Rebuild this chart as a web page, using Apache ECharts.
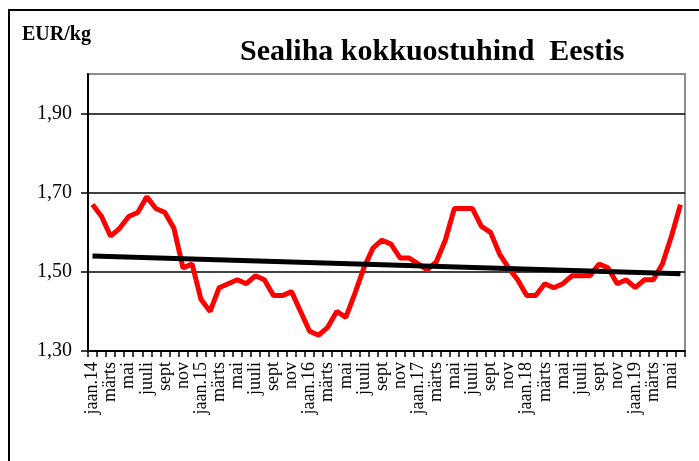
<!DOCTYPE html>
<html>
<head>
<meta charset="utf-8">
<script src="https://cdn.jsdelivr.net/npm/echarts@6/dist/echarts.min.js"></script>
<style>
    html,body{margin:0;padding:0;background:#fff;}
    .frame{position:absolute;left:8px;top:9px;width:720px;height:480px;border:2px solid #000;}
    #chart{position:absolute;left:0;top:0;width:699px;height:461px;}
</style>
</head>
<body>
<div class="frame"></div>
<div id="chart"></div>
<script>
    // kuud (iga teine silt näidatakse)
    var months = [
        'jaan.14','veebr','märts','apr','mai','juuni','juuli','aug','sept','okt','nov','dets',
        'jaan.15','veebr','märts','apr','mai','juuni','juuli','aug','sept','okt','nov','dets',
        'jaan.16','veebr','märts','apr','mai','juuni','juuli','aug','sept','okt','nov','dets',
        'jaan.17','veebr','märts','apr','mai','juuni','juuli','aug','sept','okt','nov','dets',
        'jaan.18','veebr','märts','apr','mai','juuni','juuli','aug','sept','okt','nov','dets',
        'jaan.19','veebr','märts','apr','mai','juuni'
    ];
    // sealiha kokkuostuhind, EUR/kg
    var prices = [
        1.67, 1.64, 1.59, 1.61, 1.64, 1.65, 1.69, 1.66, 1.65, 1.61, 1.51, 1.52,
        1.43, 1.40, 1.46, 1.47, 1.48, 1.47, 1.49, 1.48, 1.44, 1.44, 1.45, 1.40,
        1.35, 1.34, 1.36, 1.40, 1.385, 1.445, 1.51, 1.56, 1.58, 1.57, 1.535, 1.535,
        1.52, 1.505, 1.525, 1.58, 1.66, 1.66, 1.66, 1.615, 1.60, 1.545, 1.51, 1.48,
        1.44, 1.44, 1.47, 1.46, 1.47, 1.49, 1.49, 1.49, 1.52, 1.51, 1.47, 1.48,
        1.46, 1.48, 1.48, 1.52, 1.59, 1.67
    ];
    // trendijoone otsad (algus, lõpp)
    var trendEnds = [1.54, 1.495];
    // y-telg: min, max, samm
    var yRange = [1.30, 2.00, 0.2];

    var myChart = echarts.init(document.getElementById('chart'));
    var option = {
        animation:false,
        title:{
            text:'Sealiha kokkuostuhind  Eestis',
            left:235,
            top:32,
            textStyle:{
                fontFamily:'Liberation Serif',
                fontWeight:'bold',
                fontSize:30,
                color:'#000'
            }
        },
        graphic:[{
            type:'text',
            left:22,
            top:25,
            style:{
                text:'EUR/kg',
                font:'bold 20px "Liberation Serif"',
                fill:'#000'
            }
        }],
        grid:{
            left:88,
            top:74,
            right:14,
            bottom:110,
            show:true,
            borderColor:'#8c8c8c',
            borderWidth:2
        },
        xAxis:{
            type:'category',
            data:months,
            boundaryGap:true,
            axisLine:{lineStyle:{color:'#000',width:2}},
            axisTick:{show:true,interval:0,length:6,lineStyle:{color:'#000',width:1.5}},
            axisLabel:{
                interval:1,
                rotate:90,
                margin:11,
                fontFamily:'Liberation Serif',
                fontSize:18,
                color:'#000'
            }
        },
        yAxis:{
            type:'value',
            min:yRange[0],
            max:yRange[1],
            interval:yRange[2],
            axisLine:{show:true,lineStyle:{color:'#000',width:2}},
            axisTick:{show:true,length:7,lineStyle:{color:'#000',width:1.5}},
            axisLabel:{
                showMaxLabel:false,
                margin:16,
                fontFamily:'Liberation Serif',
                fontSize:20,
                color:'#000',
                formatter:function(v){
                    return v.toFixed(2).replace('.',',');
                }
            },
            splitLine:{
                show:true,
                lineStyle:{color:['#000','#000','#000','#000','#8c8c8c'],width:1.5}
            }
        },
        series:[
            {
                name:'hind',
                type:'line',
                data:prices,
                showSymbol:false,
                lineStyle:{color:'#ff0000',width:5},
                z:3
            },
            {
                name:'trend',
                type:'line',
                data:[[0,trendEnds[0]],[months.length-1,trendEnds[1]]],
                showSymbol:false,
                lineStyle:{color:'#000',width:5},
                z:4
            }
        ]
    };
    myChart.setOption(option);
</script>
</body>
</html>
